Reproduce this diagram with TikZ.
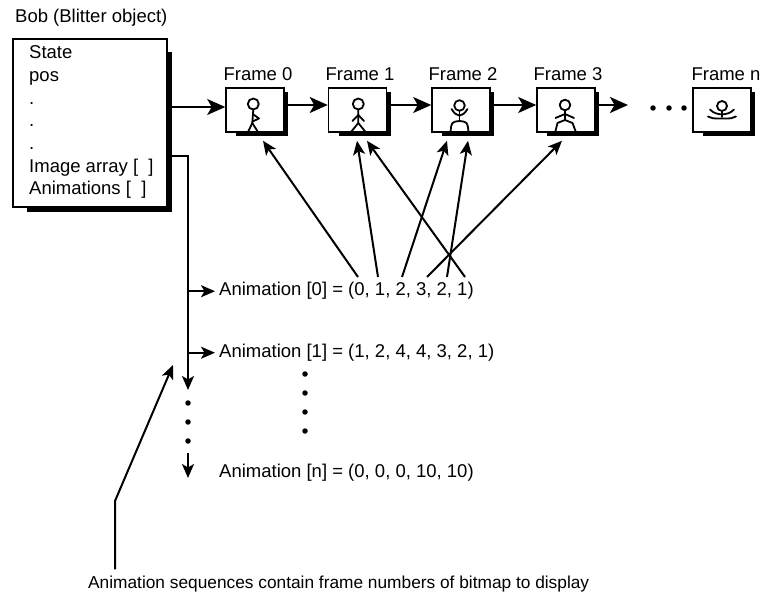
\documentclass[tikz,border=0pt]{standalone}
\usepackage{fontspec}
\setmainfont{Liberation Sans}
\usetikzlibrary{arrows.meta,calc}
\begin{document}
\begin{tikzpicture}[x=1pt,y=-1pt,
  txt/.style={inner sep=0pt, anchor=base west, font=\fontsize{18.5}{22}\selectfont},
  lbl/.style={inner sep=0pt, anchor=base, font=\fontsize{18.5}{22}\selectfont},
  framebox/.style={draw, line width=1.6pt, fill=white, minimum width=58pt, minimum height=44pt, inner sep=0pt},
  fshade/.style={line width=3.4pt},
  bshade/.style={line width=4.4pt},
  conn/.style={line width=2pt, -{Stealth[length=14pt,width=12pt,inset=3.5pt]}},
  chain/.style={line width=2pt, -{Stealth[length=18pt,width=16pt,inset=4.5pt]}},
  fig/.style={line width=1.8pt, line cap=round, line join=round},
  dotmark/.style={circle, fill, inner sep=0pt, minimum size=5.5pt}
]
\useasboundingbox (0,0) rectangle (760,593);

% ---- Bob record ----
\node[txt] (title) at (15,23) {Bob (Blitter object)};
\node[draw, line width=1.8pt, fill=white, minimum width=154pt, minimum height=168pt, inner sep=0pt] (bob) at (90,123) {};
\draw[bshade] ([xshift=2.2pt,yshift=-14pt]bob.north east) -- ([xshift=2.2pt,yshift=-2.2pt]bob.south east) -- ([xshift=15pt,yshift=-2.2pt]bob.south west);
\node[txt] (fstate) at (29,59) {State};
\node[txt] (fpos) at (29,81.7) {pos};
\node[txt] (fd1) at (29,104.3) {.};
\node[txt] (fd2) at (29,127) {.};
\node[txt] (fd3) at (29,149.7) {.};
\node[txt] (fimg) at (29,172.4) {Image array [ \ ]};
\node[txt] (fanim) at (29,195) {Animations [ \ ]};

% ---- frames ----
\node[framebox] (f0) at (255,110) {};
\node[framebox] (f1) at (357.5,110) {};
\node[framebox] (f2) at (461,110) {};
\node[framebox] (f3) at (566,110) {};
\node[framebox] (fn) at (722,110) {};
\foreach \f in {f0,f1,f2,f3,fn}
  \draw[fshade] ([xshift=1.7pt,yshift=-5pt]\f.north east) -- ([xshift=1.7pt,yshift=-1.7pt]\f.south east) -- ([xshift=11pt,yshift=-1.7pt]\f.south west);

\node[lbl] (l0) at (258,81) {Frame 0};
\node[lbl] (l1) at (360,81) {Frame 1};
\node[lbl] (l2) at (463,81) {Frame 2};
\node[lbl] (l3) at (568,81) {Frame 3};
\node[lbl] (ln) at (726,81) {Frame n};

% stick figures
\begin{scope}[shift={(f0)}]
  \draw[fig] (-1.7,-6) circle (5.5);
  \draw[fig] (-1.7,-0.5) -- (-2.7,13) -- (-7,22);
  \draw[fig] (-2.7,13) -- (3,22);
  \draw[fig] (-2.2,4) -- (4,8.5) -- (-2.5,11.5);
\end{scope}
\begin{scope}[shift={(f1)}]
  \draw[fig] (0.8,-6) circle (5.5);
  \draw[fig] (0.8,-0.5) -- (0.8,13) -- (-6.5,22);
  \draw[fig] (0.8,13) -- (8,22);
  \draw[fig] (-5,11) -- (0.8,5) -- (6.5,11);
\end{scope}
\begin{scope}[shift={(f2)}]
  \draw[fig] (-1.5,-4.5) circle (5.3);
  \draw[fig] (-1.5,0.8) -- (-1.5,11);
  \draw[fig] (-9.5,-1) .. controls (-6,4) .. (-1.5,5.5) .. controls (3,4) .. (6.5,-1);
  \draw[fig] (-10.5,22) .. controls (-9.5,12) .. (-1.5,11) .. controls (6.5,12) .. (7.5,22);
\end{scope}
\begin{scope}[shift={(f3)}]
  \draw[fig] (-1,-5) circle (5.3);
  \draw[fig] (-1,0.3) -- (-1,10);
  \draw[fig] (-10.5,8) -- (-1,4) -- (8,8);
  \draw[fig] (-10.5,21) -- (-8.5,13) -- (-1,10) -- (6.5,13) -- (9.5,21);
\end{scope}
\begin{scope}[shift={(fn)}]
  \draw[fig] (0,-4) circle (5);
  \draw[fig] (0,1) -- (0,7);
  \draw[fig] (-12,-0.5) .. controls (-6,6) and (6,6) .. (12,-0.5);
  \draw[fig] (-14,6.5) .. controls (-10,8.5) .. (0,8.5) .. controls (10,8.5) .. (14,6.5);
\end{scope}

% ---- chain of frames ----
\draw[chain] (bob.east |- 0,107) -- (f0.west |- 0,107);
\draw[chain] (f0.east |- 0,105) -- (f1.west |- 0,105);
\draw[chain] (f1.east |- 0,105) -- (f2.west |- 0,105);
\draw[chain] (f2.east |- 0,105) -- (f3.west |- 0,105);
\coordinate (chainend) at (628,105);
\draw[chain] (f3.east |- chainend) -- (chainend);
\node[dotmark] (h1) at (653,108) {};
\node[dotmark] (h2) at (669,108) {};
\node[dotmark] (h3) at (684,108) {};

% ---- animation list ----
\node[txt] (anim0) at (219,296) {Animation [0] = (0, 1, 2, 3, 2, 1)};
\node[txt] (anim1) at (219,357.5) {Animation [1] = (1, 2, 4, 4, 3, 2, 1)};
\node[txt] (animn) at (219,477) {Animation [n] = (0, 0, 0, 10, 10)};

\coordinate (bend) at (188,156);
\coordinate (vend) at (188,390);
\draw[conn] (bob.east |- bend) -- (bend) -- (vend);
\draw[conn] (bend |- anim0.west) -- ([xshift=-4pt]anim0.west);
\draw[conn] (bend |- anim1.west) -- ([xshift=-4pt]anim1.west);
\node[dotmark] (v1) at (188,403) {};
\node[dotmark] (v2) at (188,422) {};
\node[dotmark] (v3) at (188,441) {};
\coordinate (lstart) at (188,453);
\coordinate (lend) at (188,478);
\draw[conn] (lstart) -- (lend);

\node[dotmark] (m1) at (305,374) {};
\node[dotmark] (m2) at (305,393) {};
\node[dotmark] (m3) at (305,412) {};
\node[dotmark] (m4) at (305,431) {};

% ---- frame references of Animation [0] ----
\coordinate (d0) at (358,277);
\coordinate (d1) at (378,277);
\coordinate (d2) at (402,277);
\coordinate (d3) at (427,277);
\coordinate (d4) at (447,277);
\coordinate (d5) at (465,277);
\draw[conn] (d0) -- ($(f0.south)+(8,8)$);
\draw[conn] (d1) -- ($(f1.south)+(-0.5,8)$);
\draw[conn] (d2) -- ($(f2.south)+(-14,8)$);
\draw[conn] (d3) -- ($(f3.south)+(-4,8)$);
\draw[conn] (d4) -- ($(f2.south)+(7,8)$);
\draw[conn] (d5) -- ($(f1.south)+(9.5,8)$);

% ---- note ----
\node[txt, font=\fontsize{17.3}{21}\selectfont] (note) at (88,588) {Animation sequences contain frame numbers of bitmap to display};
\coordinate (pk) at (115,501);
\coordinate (ptip) at (173,365);
\draw[conn] ($(note.north -| pk)+(0,-6)$) -- (pk) -- (ptip);
\end{tikzpicture}
\end{document}
